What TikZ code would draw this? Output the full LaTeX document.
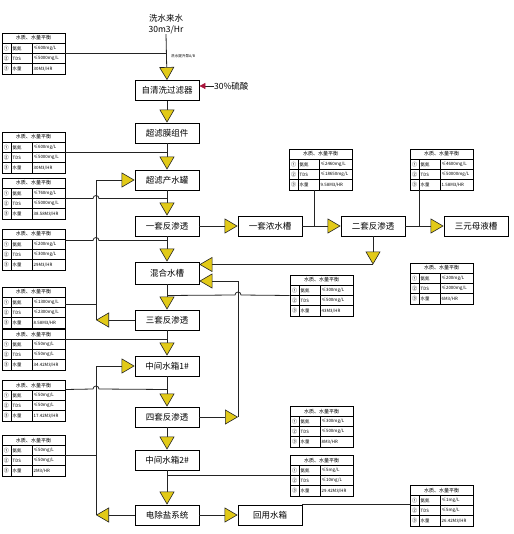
\documentclass[tikz,border=0pt]{standalone}
\usepackage{fontspec}
\setmainfont{Noto Sans CJK SC}
\usetikzlibrary{arrows.meta,calc}
\definecolor{triyellow}{RGB}{226,202,24}
\definecolor{lncol}{RGB}{35,35,35}
\definecolor{acidred}{RGB}{170,20,60}
\tikzset{
  box/.style={draw=black,line width=0.8pt,minimum width=64pt,minimum height=20pt,inner sep=0pt,font=\fontsize{8.5}{9}\selectfont},
  ln/.style={draw=lncol,line width=0.8pt},
  flow/.style={ln,-{Triangle[width=15pt,length=13pt,fill=triyellow,line width=0.6pt]}},
  acidflow/.style={ln,-{Triangle[width=6pt,length=6pt,fill=acidred,color=acidred]}},
  tbl/.style={draw=black,line width=0.8pt,minimum width=63pt,minimum height=41pt,inner sep=0pt},
  tbll/.style={draw=black,line width=0.6pt},
  tblh/.style={font=\fontsize{5}{5}\selectfont,inner sep=0pt},
  tblc/.style={font=\fontsize{4.4}{5}\selectfont,inner sep=0pt,anchor=west},
  tbln/.style={font=\fontsize{5}{5}\selectfont,inner sep=0pt},
  lbl/.style={inner sep=0pt,font=\fontsize{8.5}{11}\selectfont},
}
\newcommand\hopx{arc[start angle=180,end angle=0,radius=3pt]}
\newcommand\wqtable[6]{%
  \node[tbl] (#1) at ({#2+31.5},{#3+20.5}) {};
  \draw[tbll] ({#2},{#3+10.25}) -- ++(63,0) ({#2},{#3+20.5}) -- ++(63,0) ({#2},{#3+30.75}) -- ++(63,0)
     ({#2+9},{#3+10.25}) -- ++(0,30.75) ({#2+30},{#3+10.25}) -- ++(0,30.75);
  \node[tblh] (#1h) at ({#2+31.5},{#3+5.1}) {水质、水量平衡};
  \node[tbln] (#1n1) at ({#2+4.5},{#3+15.4}) {①};
  \node[tbln] (#1n2) at ({#2+4.5},{#3+25.6}) {②};
  \node[tbln] (#1n3) at ({#2+4.5},{#3+35.9}) {③};
  \node[tblc] (#1k1) at ({#2+10.5},{#3+15.4}) {氨氮};
  \node[tblc] (#1k2) at ({#2+10.5},{#3+25.6}) {TDS};
  \node[tblc] (#1k3) at ({#2+10.5},{#3+35.9}) {水量};
  \node[tblc] (#1v1) at ({#2+31.5},{#3+15.4}) {#4};
  \node[tblc] (#1v2) at ({#2+31.5},{#3+25.6}) {#5};
  \node[tblc] (#1v3) at ({#2+31.5},{#3+35.9}) {#6};
}
\begin{document}
\begin{tikzpicture}[x=1pt,y=-1pt]
\path[use as bounding box] (0,0) rectangle (513,534);
\coordinate (wl) at (96,0);
\coordinate (el) at (238,0);
% source
\node[lbl,align=center] (src) at (166,24) {洗水来水\\30m3/Hr};
\node[inner sep=0pt,anchor=west,font=\fontsize{3.6}{4}\selectfont] (pump) at (171,56) {洗水提升泵A/B};
% main column
\node[box] (b1) at (167,90.5) {自清洗过滤器};
\node[box] (b2) at (167,133) {超滤膜组件};
\node[box] (b3) at (167,180) {超滤产水罐};
\node[box] (b4) at (167,226) {一套反渗透};
\node[box,minimum height=22pt] (b5) at (167,273) {混合水槽};
\node[box] (b6) at (167,320) {三套反渗透};
\node[box] (b7) at (167,366) {中间水箱1\#};
\node[box] (b8) at (167,417) {四套反渗透};
\node[box] (b9) at (167,460) {中间水箱2\#};
\node[box] (b10) at (167,515) {电除盐系统};
% right boxes
\node[box] (c1) at (270,226) {一套浓水槽};
\node[box] (c2) at (373,226) {二套反渗透};
\node[box] (c3) at (476,226) {三元母液槽};
\node[box] (c4) at (270,515) {回用水箱};
% acid
\node[lbl,anchor=west] (acid) at (214,86) {30\%硫酸};
\draw[acidflow] (acid.west) -- (acid.west -| b1.east);
% tables
\wqtable{t1}{2}{33}{≤600mg/L}{≤5000mg/L}{30M3/HR}
\wqtable{t2}{2}{132}{≤600mg/L}{≤5000mg/L}{30M3/HR}
\wqtable{t3}{2}{178}{≤760mg/L}{≤5000mg/L}{38.58M3/HR}
\wqtable{t4}{2}{229}{≤200mg/L}{≤300mg/L}{29M3/HR}
\wqtable{t5}{2}{287}{≤1300mg/L}{≤2300mg/L}{8.58M3/HR}
\wqtable{t6}{2}{329}{≤50mg/L}{≤50mg/L}{34.42M3/HR}
\wqtable{t7}{2}{380}{≤50mg/L}{≤50mg/L}{17.42M3/HR}
\wqtable{t8}{2}{435}{≤50mg/L}{≤50mg/L}{2M3/HR}
\wqtable{t9}{289}{149}{≤2460mg/L}{≤18650mg/L}{9.58M3/HR}
\wqtable{t10}{410}{149}{≤4600mg/L}{≤50000mg/L}{1.58M3/HR}
\wqtable{t11}{410}{263}{≤200mg/L}{≤2000mg/L}{6M3/HR}
\wqtable{t12}{290}{275}{≤300mg/L}{≤500mg/L}{43M3/HR}
\wqtable{t13}{290}{406}{≤300mg/L}{≤500mg/L}{8M3/HR}
\wqtable{t14}{290}{455}{≤5mg/L}{≤10mg/L}{29.42M3/HR}
\wqtable{t15}{410}{485}{≤1mg/L}{≤5mg/L}{26.42M3/HR}
% main flows
\draw[flow] (src.south) -- (b1.north);
\draw[flow] (b1.south) -- (b2.north);
\draw[flow] (b2.south) -- (b3.north);
\draw[flow] (b3.south) -- (b4.north);
\draw[flow] (b4.south) -- (b5.north);
\draw[flow] (b5.south) -- (b6.north);
\draw[flow] (b6.south) -- (b7.north);
\draw[flow] (b7.south) -- (b8.north);
\draw[flow] (b8.south) -- (b9.north);
\draw[flow] (b9.south) -- (b10.north);
\draw[flow] (b4.east) -- (c1.west);
\draw[flow] (c1.east) -- (c2.west);
\draw[flow] (c2.east) -- (c3.west);
\draw[flow] (b10.east) -- (c4.west);
% returns
\draw[flow] (b6.west) -- (b6.west -| wl);
\draw[flow] (b6.west -| wl) |- (b3.west);
\draw[flow] (b10.west) -- (b10.west -| wl);
\draw[flow] (b10.west -| wl) |- (b7.west);
\coordinate (m1) at ([yshift=8.5pt]b5.east);
\coordinate (m2) at ([yshift=-8pt]b5.east);
\draw[flow] (b8.east) -- (b8.east -| el);
\draw[flow] (b8.east -| el) |- (m2);
\draw[flow] (c2.south) -- (c2.south |- m1);
\draw[flow] (c2.south |- m1) -- (m1);
% table connectors
\draw[ln] (t1.east) -- (t1.east -| src.south);
\draw[ln] (t2.east) -- (t2.east -| b2.south);
\draw[ln] (t3.east) -- (93,198.5) \hopx -- (t3.east -| b3.south);
\coordinate (t4o) at ([yshift=9pt]t4.east);
\draw[ln] (t4o) -- (93,240.5) \hopx -- (t4o -| b4.south);
\coordinate (t5o) at ([yshift=3pt]t5.east);
\draw[ln] (t5o) -- (t5o -| wl);
\coordinate (t6o) at ([yshift=10pt]t6.east);
\draw[ln] (t6o) -- (t6o -| b6.south);
\coordinate (t7o) at ([yshift=11pt]t7.east);
\draw[ln] (t7o) -- (93,389) \hopx -- (t7o -| b7.south);
\draw[ln] (t8.east) -- (t8.east -| wl);
\draw[ln] (t12.west -| b5.south) -- (235,295) \hopx -- (t12.west);
\draw[ln] (t14.west -| b9.south) -- (t14.west);
\draw[ln] (c4.north east) -- (c4.north east -| t15.west);
\coordinate (t9o) at ([xshift=-6.5pt]t9.south);
\draw[ln] (t9o) -- (t9o |- c1.east);
\coordinate (t10o) at ([xshift=-22.5pt]t10.south);
\draw[ln] (t10o) -- (t10o |- c2.east);
\end{tikzpicture}
\end{document}
